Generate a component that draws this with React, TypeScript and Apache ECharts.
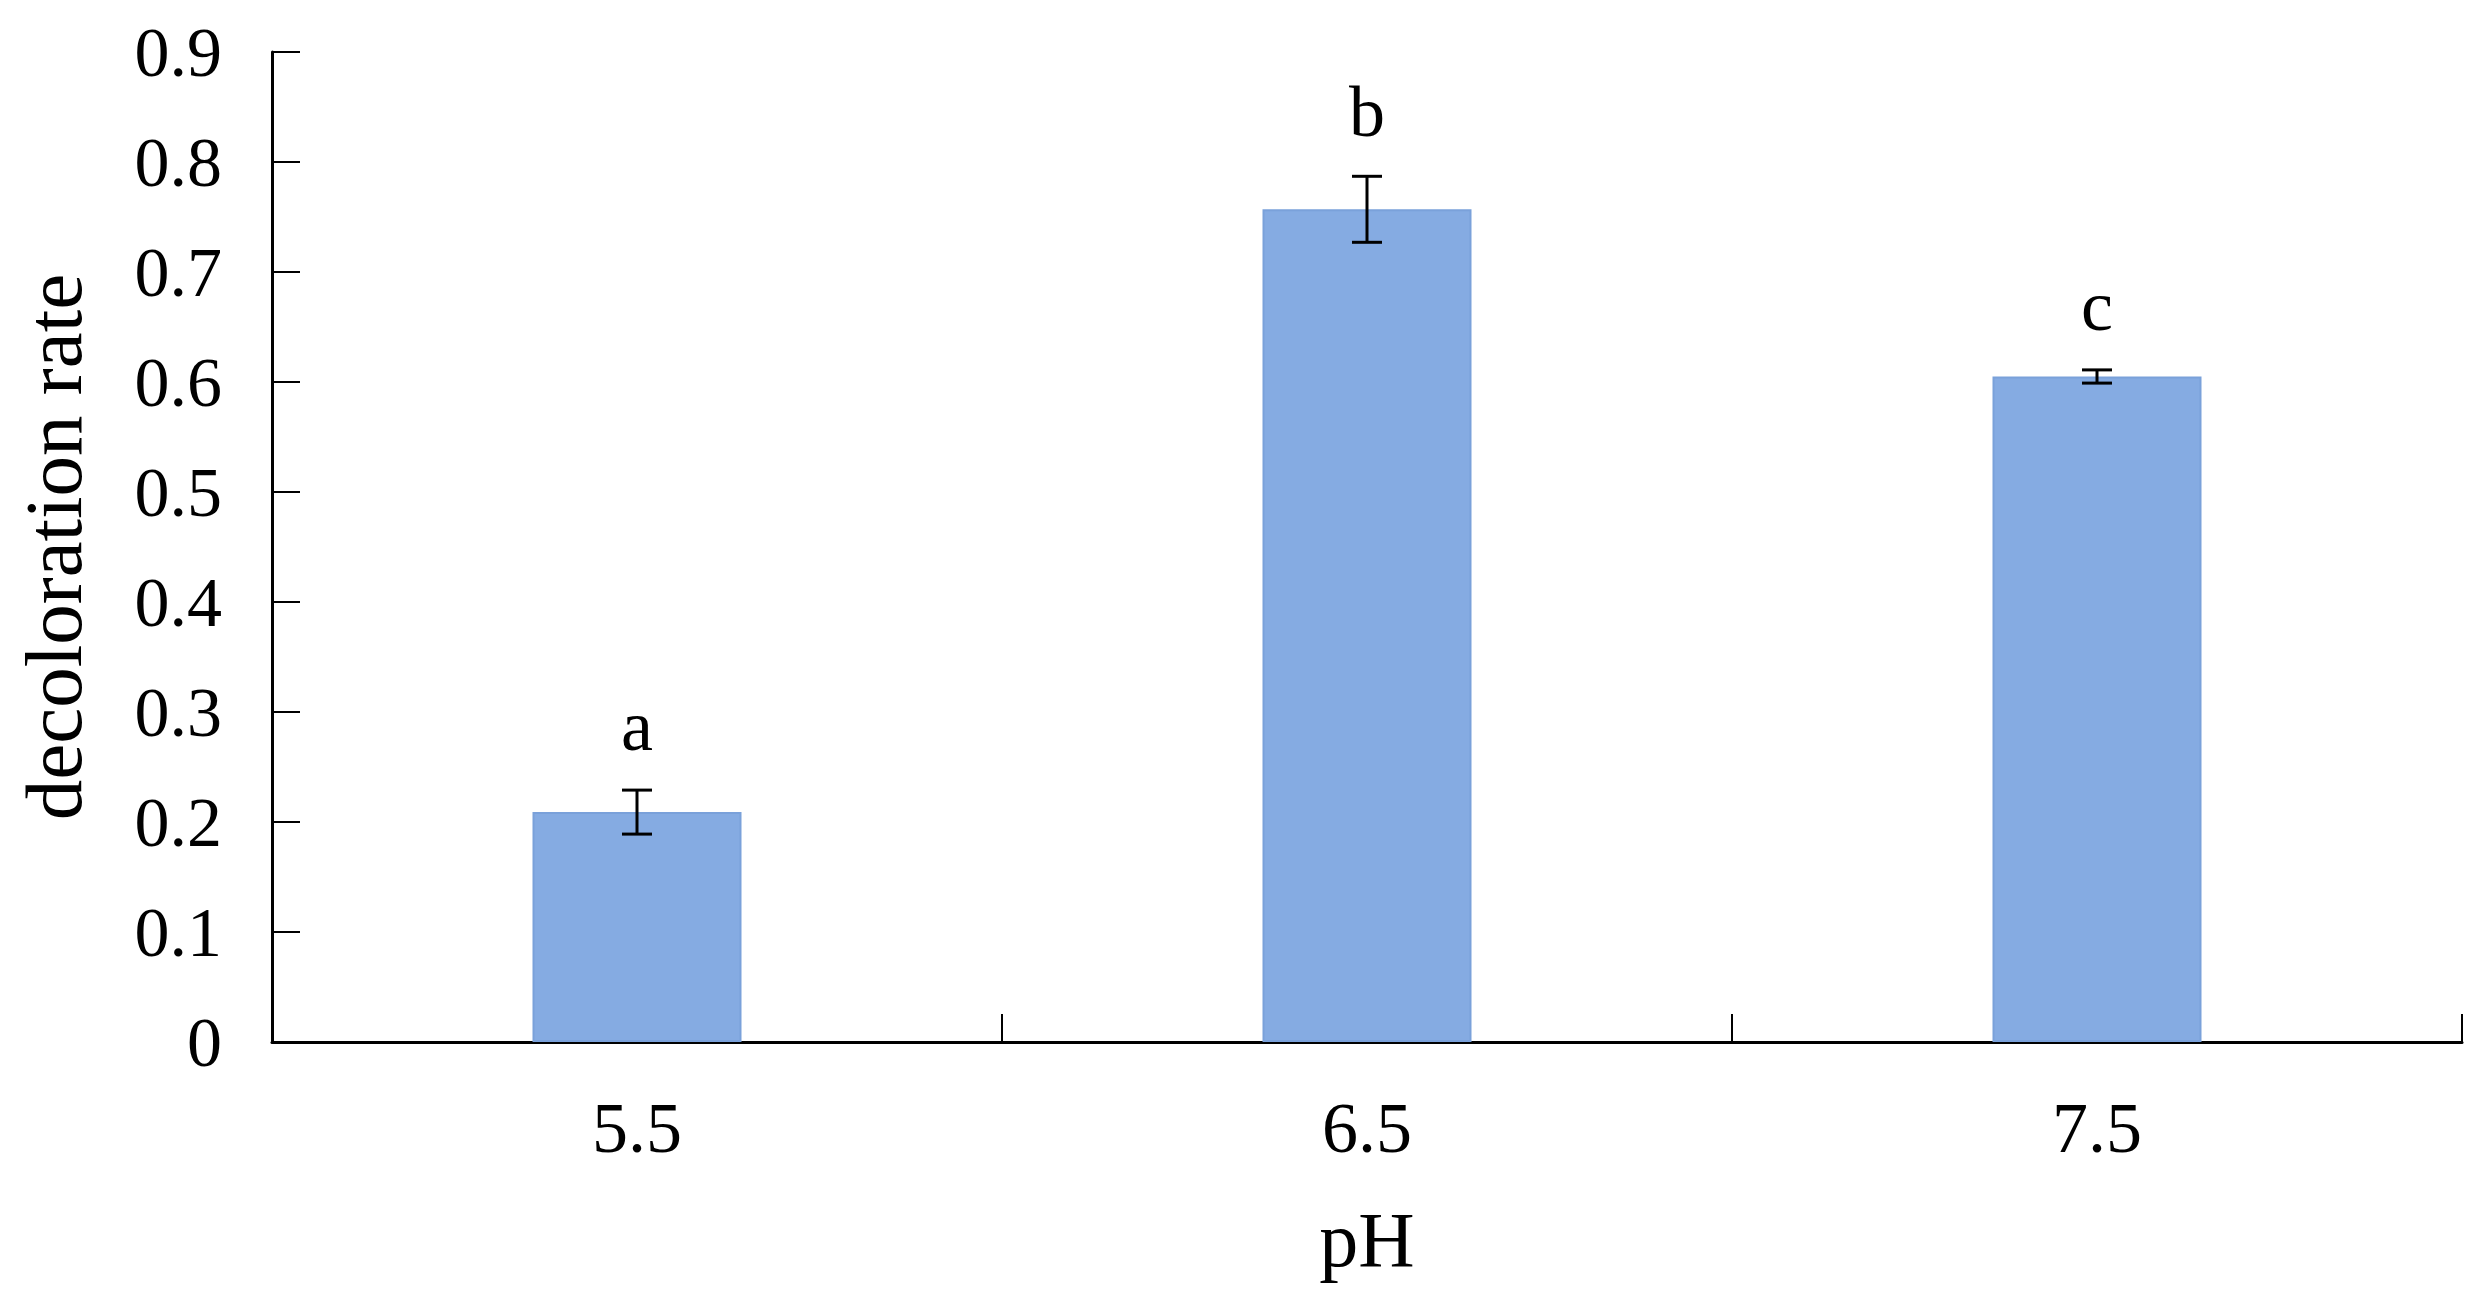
import React, { useEffect, useRef } from "react";
import * as echarts from "echarts";

const categories = ["5.5", "6.5", "7.5"];
const rates = [0.209, 0.757, 0.605];
const errors = [0.02, 0.03, 0.006];
const letters = ["a", "b", "c"];
const yTicks = { min: 0, max: 0.9, interval: 0.1 };
const xTitle = "pH";
const yTitle = "decoloration rate";

const FONT = "Liberation Serif";

export default function App() {
  const ref = useRef<HTMLDivElement>(null);
  useEffect(() => {
    document.body.style.margin = "0";
    const chart = echarts.init(ref.current!, null, { renderer: "svg" });
    const errData = categories.map((c, i) => [i, rates[i] - errors[i], rates[i] + errors[i], letters[i]]);
    chart.setOption({
      animation: false,
      backgroundColor: "#ffffff",
      grid: { left: 272, right: 20, top: 52, bottom: 265 },
      xAxis: {
        type: "category",
        data: categories,
        name: xTitle,
        nameLocation: "middle",
        nameGap: 158,
        nameTextStyle: { fontFamily: FONT, fontSize: 78, color: "#000" },
        axisLine: { lineStyle: { color: "#000", width: 3 } },
        axisTick: {
          show: true,
          inside: true,
          alignWithLabel: false,
          interval: 0,
          length: 28,
          lineStyle: { color: "#000", width: 2 },
        },
        axisLabel: { fontFamily: FONT, fontSize: 72, color: "#000", margin: 50 },
      },
      yAxis: {
        type: "value",
        min: yTicks.min,
        max: yTicks.max,
        interval: yTicks.interval,
        name: yTitle,
        nameLocation: "middle",
        nameGap: 178,
        nameTextStyle: { fontFamily: FONT, fontSize: 81, color: "#000" },
        axisLine: { show: true, lineStyle: { color: "#000", width: 3 } },
        axisTick: { show: true, inside: true, length: 28, lineStyle: { color: "#000", width: 2 } },
        splitLine: { show: false },
        axisLabel: {
          fontFamily: FONT,
          fontSize: 70,
          color: "#000",
          margin: 50,
          formatter: (v: number) => (v === 0 ? "0" : v.toFixed(1)),
        },
      },
      series: [
        {
          type: "bar",
          data: rates,
          barWidth: 209,
          itemStyle: { color: "#85ABE2", borderColor: "#7AA1DA", borderWidth: 2 },
        },
        {
          type: "custom",
          data: errData,
          z: 10,
          renderItem: (params: any, api: any) => {
            const idx = api.value(0);
            const lo = api.coord([idx, api.value(1)]);
            const hi = api.coord([idx, api.value(2)]);
            const x = lo[0];
            const cap = 15;
            const ls = { stroke: "#000", lineWidth: 3 };
            return {
              type: "group",
              children: [
                { type: "line", shape: { x1: x, y1: lo[1], x2: x, y2: hi[1] }, style: ls },
                { type: "line", shape: { x1: x - cap, y1: lo[1], x2: x + cap, y2: lo[1] }, style: ls },
                { type: "line", shape: { x1: x - cap, y1: hi[1], x2: x + cap, y2: hi[1] }, style: ls },
                {
                  type: "text",
                  style: {
                    text: letters[params.dataIndex],
                    x: x,
                    y: hi[1] - 28,
                    align: "center",
                    verticalAlign: "bottom",
                    fontFamily: FONT,
                    fontSize: 72,
                    fill: "#000",
                  },
                },
              ],
            };
          },
        },
      ],
    });
    return () => chart.dispose();
  }, []);
  return <div ref={ref} style={{ width: 2482, height: 1307 }} />;
}
